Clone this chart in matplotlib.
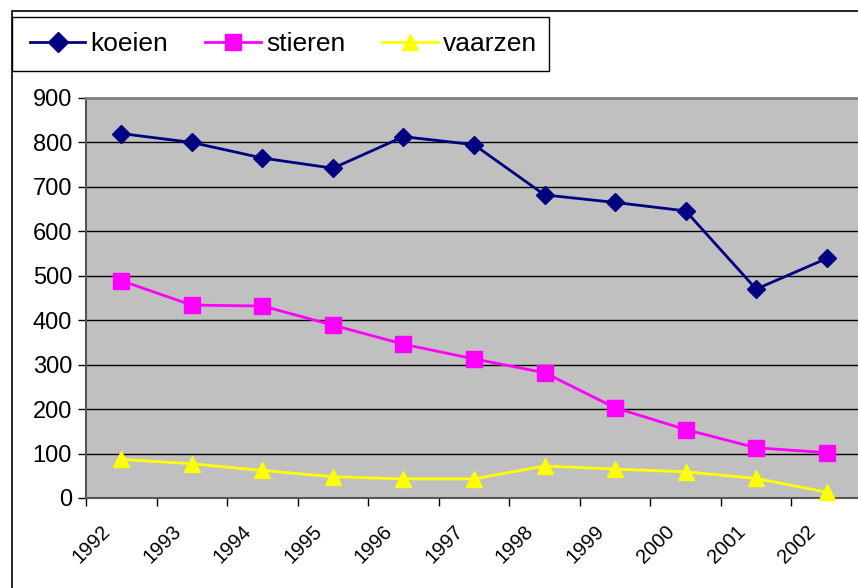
import matplotlib
matplotlib.use("Agg")
import matplotlib.pyplot as plt
import matplotlib.transforms as mtransforms
from matplotlib.patches import Rectangle
from matplotlib.lines import Line2D

years = ["1992", "1993", "1994", "1995", "1996", "1997", "1998", "1999", "2000", "2001", "2002"]
koeien = [820, 800, 765, 742, 813, 795, 682, 665, 646, 470, 539]
stieren = [489, 434, 432, 389, 346, 313, 282, 203, 154, 113, 102]
vaarzen = [87, 77, 62, 48, 43, 43, 72, 65, 59, 44, 13]
yticks = [0, 100, 200, 300, 400, 500, 600, 700, 800, 900]

plt.rcParams['font.family'] = ['Liberation Sans', 'DejaVu Sans']

W, H = 858, 588
fig = plt.figure(figsize=(W / 100, H / 100), dpi=100)
fig.patch.set_facecolor('white')

# outer chart frame (cropped at right/bottom)
fig.patches.append(Rectangle((11.5 / W, -0.1), 1.2, 1 - 11.5 / H + 0.1, transform=fig.transFigure,
                             fill=False, edgecolor='black', linewidth=1.2, zorder=0))

left, right, top, bottom = 86, 862, 98, 498
ax = fig.add_axes([left / W, 1 - bottom / H, (right - left) / W, (bottom - top) / H])
ax.set_facecolor('#C0C0C0')

x = list(range(len(years)))
ax.plot(x, koeien, color='#000080', lw=2.0, marker='D', ms=9, zorder=5, clip_on=False)
ax.plot(x, stieren, color='#FF00FF', lw=2.0, marker='s', ms=11, zorder=4, clip_on=False)
ax.plot(x, vaarzen, color='#FFFF00', lw=2.0, marker='^', ms=12, zorder=3, clip_on=False)

ax.set_xlim(-0.5, len(years) - 0.5)
ax.set_ylim(0, 900)
ax.set_yticks(yticks)
ax.set_yticklabels([str(v) for v in yticks], fontsize=17)
for v in yticks[1:-1]:
    ax.axhline(v, color='black', lw=1.0, zorder=1)

ax.set_xticks([i - 0.5 for i in range(len(years) + 1)], minor=False)
ax.set_xticklabels([])
ax.set_xticks(x, minor=True)
ax.set_xticklabels(years, minor=True, rotation=45, ha='right', va='top', fontsize=14.5)
ax.tick_params(axis='x', which='minor', length=0, pad=17)
ax.tick_params(axis='x', which='major', length=6, width=1, color='black', direction='out')
ax.tick_params(axis='y', length=6, width=1, color='black', direction='out', pad=4)
offset = mtransforms.ScaledTranslation(-7 / 100, 0, fig.dpi_scale_trans)
for lab in ax.get_xticklabels(minor=True):
    lab.set_transform(lab.get_transform() + offset)

for s in ['left', 'bottom']:
    ax.spines[s].set_color('#555555')
    ax.spines[s].set_linewidth(1.5)
ax.spines['top'].set_color('#808080')
ax.spines['top'].set_linewidth(2)
ax.spines['right'].set_visible(False)

# legend box
fig.patches.append(Rectangle((11.5 / W, 1 - 71 / H), (549 - 11.5) / W, 54 / H, transform=fig.transFigure,
                             fill=True, facecolor='white', edgecolor='black', linewidth=1.0, zorder=1))
handles = [
    Line2D([], [], color='#000080', lw=2.0, marker='D', ms=10),
    Line2D([], [], color='#FF00FF', lw=2.0, marker='s', ms=11),
    Line2D([], [], color='#FFFF00', lw=2.0, marker='^', ms=12),
]
leg = fig.legend(handles, ['koeien', 'stieren', 'vaarzen'], loc='center left',
                 bbox_to_anchor=(30 / W, 1 - 44 / H), ncol=3, frameon=False,
                 fontsize=19, handlelength=2.1, handletextpad=0.2, columnspacing=1.4,
                 borderaxespad=0, borderpad=0)

fig.savefig('out.png', dpi=100)
